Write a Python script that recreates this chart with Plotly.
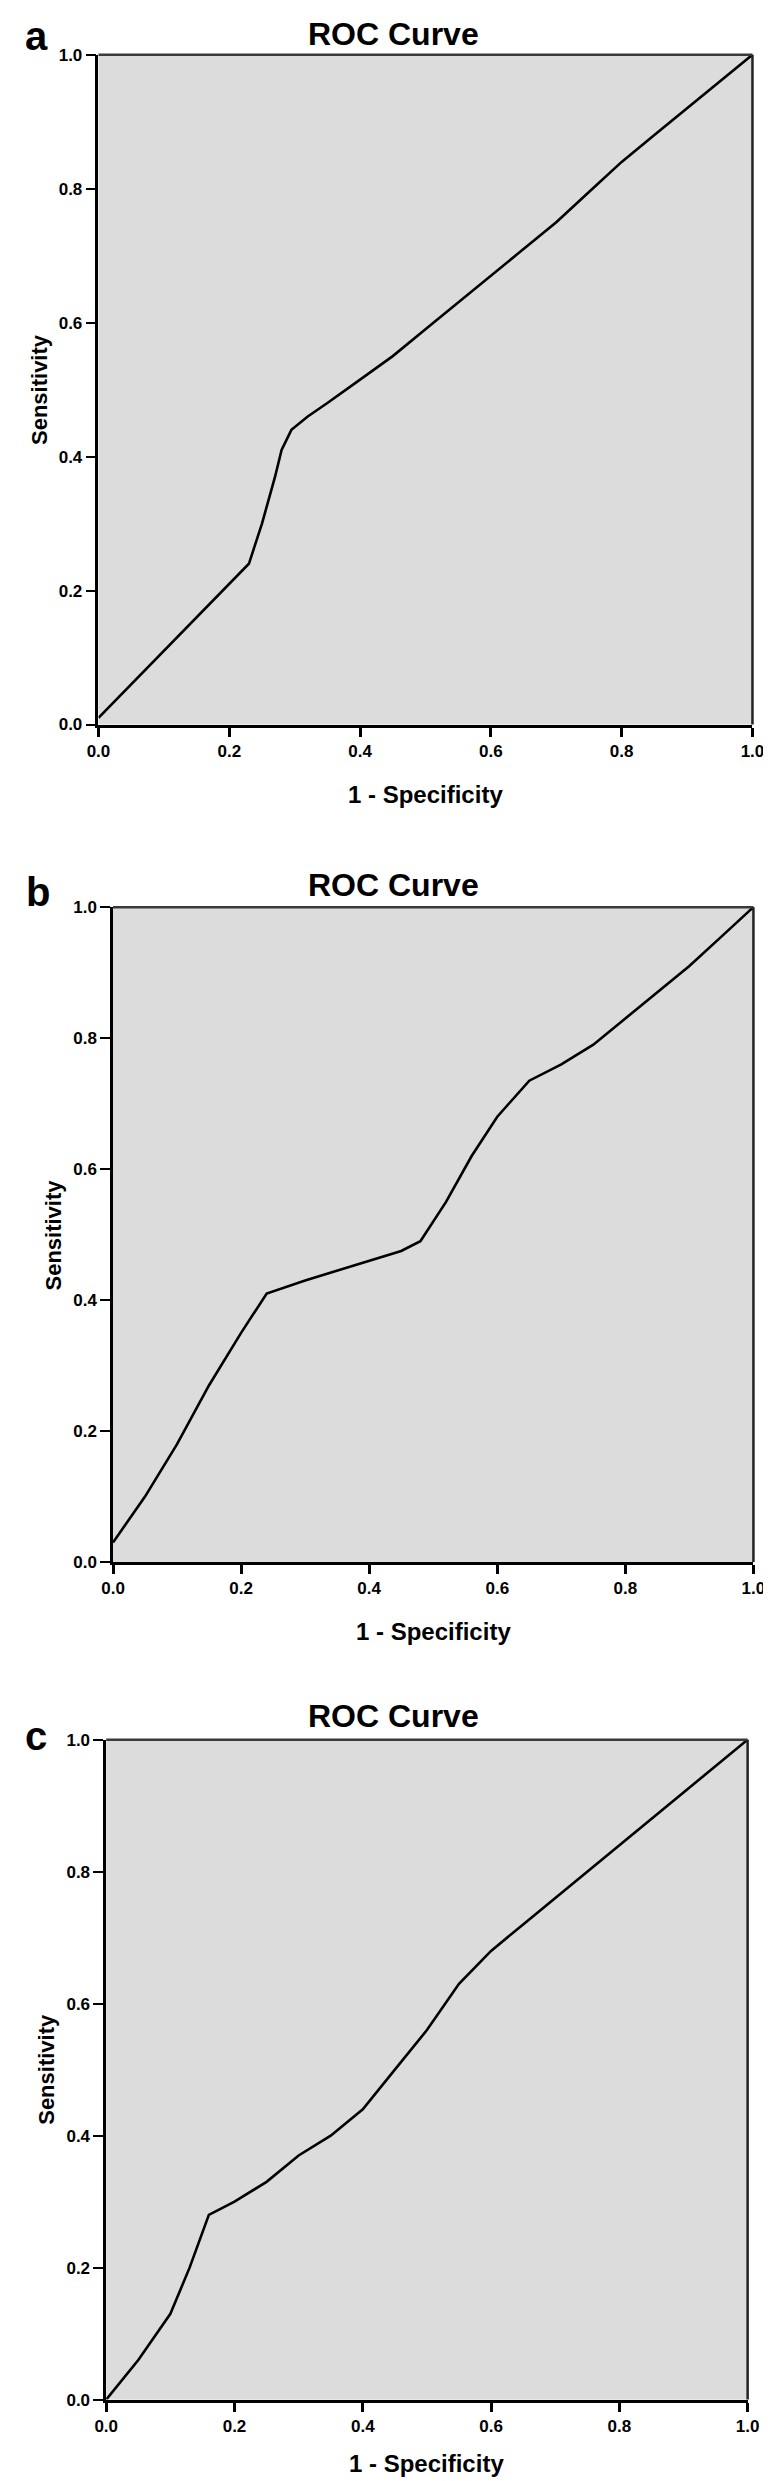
import plotly.graph_objects as go

# ---- data ----
a_fpr = [0.0, 0.05, 0.10, 0.15, 0.20, 0.23, 0.25, 0.27, 0.28, 0.295, 0.32, 0.35, 0.40, 0.45, 0.50,
         0.55, 0.60, 0.65, 0.70, 0.75, 0.80, 0.85, 0.90, 0.95, 1.0]
a_tpr = [0.01, 0.06, 0.11, 0.16, 0.21, 0.24, 0.30, 0.37, 0.41, 0.44, 0.46, 0.48, 0.515, 0.55, 0.59,
         0.63, 0.67, 0.71, 0.75, 0.795, 0.84, 0.88, 0.92, 0.96, 1.0]

b_fpr = [0.0, 0.05, 0.10, 0.15, 0.20, 0.24, 0.30, 0.35, 0.40, 0.45, 0.48, 0.52, 0.56, 0.60, 0.65,
         0.70, 0.75, 0.80, 0.85, 0.90, 0.95, 1.0]
b_tpr = [0.03, 0.10, 0.18, 0.27, 0.35, 0.41, 0.43, 0.445, 0.46, 0.475, 0.49, 0.55, 0.62, 0.68, 0.735,
         0.76, 0.79, 0.83, 0.87, 0.91, 0.955, 1.0]

c_fpr = [0.0, 0.05, 0.10, 0.13, 0.16, 0.20, 0.25, 0.30, 0.35, 0.40, 0.45, 0.50, 0.55, 0.60, 0.65,
         0.70, 0.75, 0.80, 0.85, 0.90, 0.95, 1.0]
c_tpr = [0.0, 0.06, 0.13, 0.20, 0.28, 0.30, 0.33, 0.37, 0.40, 0.44, 0.50, 0.56, 0.63, 0.68, 0.72,
         0.76, 0.80, 0.84, 0.88, 0.92, 0.96, 1.0]

tick_vals = [0.0, 0.2, 0.4, 0.6, 0.8, 1.0]
tick_text = ["0.0", "0.2", "0.4", "0.6", "0.8", "1.0"]
panel_letters = ["a", "b", "c"]
chart_title = "ROC Curve"
x_title = "1 - Specificity"
y_title = "Sensitivity"

# ---- layout (pixel geometry of the reference) ----
W, H = 771, 2481
geo = [
    dict(left=81, right=756, top=38, bottom=713, title_y=17, letter_xy=(17, 19), xt_y=783, yt_x=20),
    dict(left=96, right=757, top=897, bottom=1557, title_y=875, letter_xy=(19, 882), xt_y=1627, yt_x=35),
    dict(left=89, right=751, top=1736, bottom=2401, title_y=1712, letter_xy=(17, 1732), xt_y=2465, yt_x=28),
]
series = [(a_fpr, a_tpr), (b_fpr, b_tpr), (c_fpr, c_tpr)]

FONT = "Liberation Sans, Arial, sans-serif"

def px(x):
    return x / W

def py(y):
    return 1 - y / H

fig = go.Figure()
annotations = []
shapes = []
for i, (g, (xs, ys)) in enumerate(zip(geo, series)):
    n = "" if i == 0 else str(i + 1)
    fig.add_trace(go.Scatter(x=xs, y=ys, mode="lines",
                             line=dict(color="black", width=2.6),
                             xaxis="x" + n, yaxis="y" + n, showlegend=False,
                             hoverinfo="skip"))
    xa = dict(domain=[px(g["left"]), px(g["right"])], range=[0, 1], anchor="y" + n,
              tickvals=tick_vals, ticktext=tick_text, showgrid=False, zeroline=False,
              showline=True, linecolor="black", linewidth=3,
              ticks="outside", ticklen=9, tickwidth=2.5, tickcolor="black",
              tickfont=dict(family=FONT, size=17, color="black", weight="bold"),
              fixedrange=True)
    ya = dict(domain=[py(g["bottom"]), py(g["top"])], range=[0, 1], anchor="x" + n,
              tickvals=tick_vals, ticktext=tick_text, showgrid=False, zeroline=False,
              showline=True, linecolor="black", linewidth=2.5,
              ticks="outside", ticklen=10, tickwidth=2, tickcolor="black",
              tickfont=dict(family=FONT, size=17, color="black", weight="bold"),
              fixedrange=True)
    fig.layout["xaxis" + n] = xa
    fig.layout["yaxis" + n] = ya

    # top and right frame lines (dark gray)
    shapes.append(dict(type="line", xref="x" + n + " domain", yref="y" + n + " domain",
                       x0=0, x1=1, y0=1, y1=1, line=dict(color="#3a3a3a", width=2.5)))
    shapes.append(dict(type="line", xref="x" + n + " domain", yref="y" + n + " domain",
                       x0=1, x1=1, y0=0, y1=1, line=dict(color="#222222", width=2.5)))

    annotations.append(dict(text=chart_title, xref="paper", yref="paper",
                            x=px(385), y=py(g["title_y"]), xanchor="center", yanchor="middle",
                            showarrow=False,
                            font=dict(family=FONT, size=32, color="black", weight="bold")))
    annotations.append(dict(text=panel_letters[i], xref="paper", yref="paper",
                            x=px(g["letter_xy"][0]), y=py(g["letter_xy"][1]),
                            xanchor="center", yanchor="middle", showarrow=False,
                            font=dict(family=FONT, size=40, color="black", weight="bold")))
    annotations.append(dict(text=x_title, xref="paper", yref="paper",
                            x=px((g["left"] + g["right"]) / 2), y=py(g["xt_y"]),
                            xanchor="center", yanchor="middle", showarrow=False,
                            font=dict(family=FONT, size=24, color="black", weight="bold")))
    annotations.append(dict(text=y_title, xref="paper", yref="paper", textangle=-90,
                            x=px(g["yt_x"]), y=py((g["top"] + g["bottom"]) / 2),
                            xanchor="center", yanchor="middle", showarrow=False,
                            font=dict(family=FONT, size=22, color="black", weight="bold")))

fig.update_layout(width=W, height=H, margin=dict(l=0, r=0, t=0, b=0),
                  paper_bgcolor="white", plot_bgcolor="#dcdcdc",
                  annotations=annotations, shapes=shapes, showlegend=False)

fig.write_html("out.html")
